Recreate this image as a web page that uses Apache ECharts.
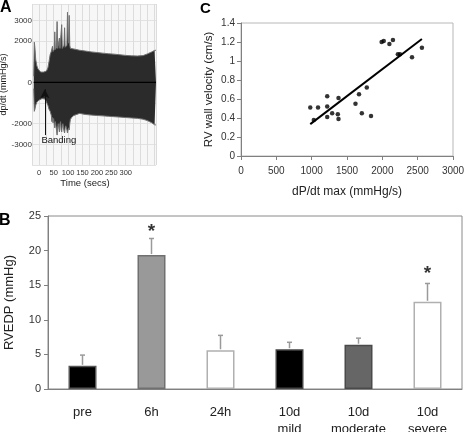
<!DOCTYPE html>
<html>
<head>
<meta charset="utf-8">
<script src="https://cdn.jsdelivr.net/npm/echarts@6/dist/echarts.min.js"></script>
<style>
html,body{margin:0;padding:0;background:#fff;}
#chart{width:464px;height:432px;}
</style>
</head>
<body>
<div id="chart"></div>
<script>
// ---------- Panel A: dp/dt recording (envelope of the trace) ----------
var aTime  = [-19,-17,-15,-12,-8,-4,0,5,10,15,20,25,30,34,38,42,44,46,48,50,52,54,56,58,60,62,64,66,68,70,72,74,76,78,80,82,84,86,88,90,92,94,96,98,100,102,104,106,108,112,120,140,160,180,200,220,240,260,280,300,320,340,360,375,390,400,405];
var aUpper = [300,1950,1700,1100,800,650,600,500,450,500,480,550,700,1000,1350,1500,1520,1750,1500,1550,1600,2450,1600,1600,1700,2950,1650,1600,1700,2150,1650,1600,1700,2800,1650,1600,1650,1800,2650,1700,1650,1700,1800,3400,2200,1900,3250,1800,1650,1650,1620,1560,1520,1480,1450,1420,1390,1370,1340,1310,1290,1280,1300,1380,1480,1550,1560];
var aLower = [-300,-1400,-1300,-1100,-950,-900,-850,-800,-780,-750,-800,-850,-1100,-1300,-1400,-1600,-1900,-1700,-1960,-1750,-2000,-2200,-1900,-2100,-2300,-2550,-2200,-2000,-2200,-2400,-2000,-1900,-2300,-2400,-2100,-2000,-2200,-2350,-2450,-2200,-2100,-2200,-2300,-2450,-2300,-2200,-2300,-2000,-1800,-1700,-1600,-1500,-1550,-1580,-1600,-1620,-1640,-1660,-1680,-1700,-1720,-1740,-1780,-1850,-1950,-2050,-2060];
var aYLabels = [3000, 2000, 0, -2000, -3000];
var aXLabels = [0, 50, 100, 150, 200, 250, 300];

// ---------- Panel B: RVEDP bars ----------
var bCategories = ['pre', '6h', '24h', '10d\nmild', '10d\nmoderate', '10d\nsevere'];
var bValues = [3.35, 19.35, 5.6, 5.75, 6.4, 12.6];
var bErrors = [1.55, 2.4, 2.15, 1.0, 0.95, 2.65];
var bFill   = ['#000000', '#999999', '#ffffff', '#000000', '#666666', '#ffffff'];
var bBorder = ['#555555', '#707070', '#b0b0b0', '#444444', '#4a4a4a', '#b0b0b0'];
var bStarIdx = [1, 5];
var bStarY   = [22.7, 16.6];

// ---------- Panel C: scatter ----------
var cX = [980,1030,1090,1220,1220,1220,1290,1370,1380,1380,1620,1670,1710,1780,1840,1990,2020,2100,2150,2220,2250,2420,2560];
var cY = [0.51,0.38,0.51,0.63,0.52,0.41,0.45,0.44,0.61,0.39,0.55,0.65,0.45,0.72,0.42,1.20,1.21,1.18,1.22,1.07,1.07,1.04,1.14];

// linear trend line (least squares over the scatter data)
var n = cX.length, mx = 0, my = 0;
for (var i = 0; i < n; i++) { mx += cX[i]; my += cY[i]; }
mx /= n; my /= n;
var sxy = 0, sxx = 0;
for (i = 0; i < n; i++) { sxy += (cX[i]-mx)*(cY[i]-my); sxx += (cX[i]-mx)*(cX[i]-mx); }
var slope = sxy / sxx, icpt = my - slope * mx;
var xMin = Math.min.apply(null, cX), xMax = Math.max.apply(null, cX);

var FONT = 'Liberation Sans, Arial, sans-serif';
var chart = echarts.init(document.getElementById('chart'), null, {renderer: 'canvas'});

var option = {
  animation: false,
  backgroundColor: '#ffffff',
  textStyle: {fontFamily: FONT},
  title: [
    {text: 'A', left: 0, top: 0, padding: 0, textStyle: {fontSize: 16, fontWeight: 'bold', color: '#000', fontFamily: FONT}},
    {text: 'C', left: 200, top: 1, padding: 0, textStyle: {fontSize: 15, fontWeight: 'bold', color: '#000', fontFamily: FONT}},
    {text: 'B', left: -1, top: 213, padding: 0, textStyle: {fontSize: 16, fontWeight: 'bold', color: '#000', fontFamily: FONT}}
  ],
  grid: [
    {left: 32, top: 4, width: 124, height: 161, show: true, backgroundColor: '#f7f7f7', borderWidth: 0, outerBoundsMode: 'none', containLabel: false},
    {left: 241, top: 23, width: 212, height: 133, show: true, borderColor: '#b8b8b8', borderWidth: 1, outerBoundsMode: 'none', containLabel: false},
    {left: 48, top: 216, width: 414, height: 173, show: true, borderColor: '#8a8a8a', borderWidth: 1, outerBoundsMode: 'none', containLabel: false}
  ],
  xAxis: [
    {gridIndex: 0, type: 'value', min: -25, max: 405, interval: 25,
     axisLine: {show: false}, axisTick: {show: false},
     splitLine: {show: true, lineStyle: {color: '#dcdcdc', width: 1}},
     axisLabel: {fontSize: 7.5, color: '#333', margin: 4, fontFamily: FONT,
       formatter: function (v) { return aXLabels.indexOf(v) >= 0 ? String(v) : ''; }},
     name: 'Time (secs)', nameLocation: 'middle', nameGap: 12,
     nameTextStyle: {fontSize: 9.5, color: '#222', fontFamily: FONT, padding: [0, 18, 0, 0]}},
    {gridIndex: 1, type: 'value', min: 0, max: 3000, interval: 500,
     axisLine: {lineStyle: {color: '#808080'}}, axisTick: {length: 4, lineStyle: {color: '#808080'}},
     splitLine: {show: false},
     axisLabel: {fontSize: 10, color: '#333', margin: 10, fontFamily: FONT,
       formatter: function (v) { return String(v); }},
     name: 'dP/dt max (mmHg/s)', nameLocation: 'middle', nameGap: 30,
     nameTextStyle: {fontSize: 12, color: '#222', fontFamily: FONT}},
    {gridIndex: 2, type: 'category', data: bCategories,
     axisLine: {lineStyle: {color: '#808080'}}, axisTick: {show: false},
     axisLabel: {interval: 0, fontSize: 13, color: '#222', margin: 15, lineHeight: 17, fontFamily: FONT}}
  ],
  yAxis: [
    {gridIndex: 0, type: 'value', min: -4000, max: 3800, interval: 1000,
     axisLine: {show: false}, axisTick: {show: false},
     splitLine: {show: true, lineStyle: {color: '#e2e2e2'}},
     axisLabel: {fontSize: 8, color: '#333', margin: 0, fontFamily: FONT,
       formatter: function (v) { return aYLabels.indexOf(v) >= 0 ? String(v) : ''; }},
     name: 'dp/dt (mmHg/s)', nameLocation: 'middle', nameGap: 21,
     nameTextStyle: {fontSize: 9, color: '#222', fontFamily: FONT}},
    {gridIndex: 1, type: 'value', min: 0, max: 1.4, interval: 0.2,
     axisLine: {show: true, lineStyle: {color: '#808080'}}, axisTick: {show: true, length: 4, lineStyle: {color: '#808080'}},
     splitLine: {show: false},
     axisLabel: {fontSize: 10, color: '#333', margin: 6, fontFamily: FONT},
     name: 'RV wall velocity (cm/s)', nameLocation: 'middle', nameGap: 26,
     nameTextStyle: {fontSize: 11.5, color: '#222', fontFamily: FONT}},
    {gridIndex: 2, type: 'value', min: 0, max: 25, interval: 5,
     axisLine: {show: true, lineStyle: {color: '#808080'}}, axisTick: {show: true, length: 4, lineStyle: {color: '#808080'}},
     splitLine: {show: false},
     axisLabel: {fontSize: 11, color: '#333', margin: 7, fontFamily: FONT},
     name: 'RVEDP (mmHg)', nameLocation: 'middle', nameGap: 32,
     nameTextStyle: {fontSize: 13, color: '#222', fontFamily: FONT}}
  ],
  series: [
    // Panel A envelope: upper and lower halves each filled to zero
    {type: 'line', xAxisIndex: 0, yAxisIndex: 0, symbol: 'none',
     data: aTime.map(function (t, i) { return [t, aUpper[i]]; }),
     lineStyle: {color: '#707070', width: 1},
     areaStyle: {color: '#2b2b2b', opacity: 1, origin: 'auto'}, z: 2},
    {type: 'line', xAxisIndex: 0, yAxisIndex: 0, symbol: 'none',
     data: aTime.map(function (t, i) { return [t, aLower[i]]; }),
     lineStyle: {color: '#707070', width: 1},
     areaStyle: {color: '#2b2b2b', opacity: 1, origin: 'auto'}, z: 2},
    {type: 'line', xAxisIndex: 0, yAxisIndex: 0, symbol: 'none',
     data: [[aTime[0], 0], [aTime[aTime.length - 1], 0]],
     lineStyle: {color: '#000', width: 1.2}, z: 4,
     markLine: {silent: true, symbol: ['none', 'arrow'], symbolSize: [7, 9],
       lineStyle: {color: '#111', width: 1, type: 'solid'}, label: {show: false},
       data: [[{coord: [19.5, -2550]}, {coord: [19.5, -330]}]]},
     markPoint: {silent: true, symbol: 'circle', symbolSize: 0,
       label: {show: true, formatter: 'Banding', fontSize: 9.5, color: '#111', fontFamily: FONT},
       data: [{coord: [68, -2830]}]}},
    // Panel C scatter and trend line
    {type: 'scatter', xAxisIndex: 1, yAxisIndex: 1, symbolSize: 4.5,
     itemStyle: {color: '#000'},
     data: cX.map(function (x, i) { return [x, cY[i]]; })},
    {type: 'line', xAxisIndex: 1, yAxisIndex: 1, symbol: 'none',
     lineStyle: {color: '#000', width: 2},
     data: [[xMin, icpt + slope * xMin], [xMax, icpt + slope * xMax]]},
    // Panel B bars
    {type: 'bar', xAxisIndex: 2, yAxisIndex: 2, barWidth: 28,
     data: bValues.map(function (v, i) {
       return {value: v, itemStyle: {color: bFill[i], borderColor: bBorder[i], borderWidth: 1.5}};
     })},
    {type: 'custom', xAxisIndex: 2, yAxisIndex: 2, z: 5,
     data: bValues.map(function (v, i) { return [i, v, v + bErrors[i]]; }),
     renderItem: function (params, api) {
       var p0 = api.coord([api.value(0), api.value(1)]);
       var p1 = api.coord([api.value(0), api.value(2)]);
       return {type: 'group', children: [
         {type: 'line', shape: {x1: p0[0], y1: p0[1] - 1, x2: p1[0], y2: p1[1]}, style: {stroke: '#9a9a9a', lineWidth: 1.5}},
         {type: 'line', shape: {x1: p1[0] - 2.5, y1: p1[1], x2: p1[0] + 2.5, y2: p1[1]}, style: {stroke: '#9a9a9a', lineWidth: 1.5}}
       ]};
     }},
    {type: 'scatter', xAxisIndex: 2, yAxisIndex: 2, symbolSize: 0, z: 6,
     data: bStarIdx.map(function (c, i) { return [c, bStarY[i]]; }),
     label: {show: true, position: 'inside', formatter: '*', fontSize: 19, fontWeight: 'bold', color: '#000', fontFamily: FONT}}
  ]
};
chart.setOption(option);
</script>
</body>
</html>
